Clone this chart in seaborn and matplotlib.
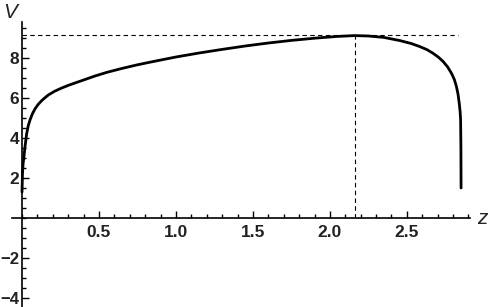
import matplotlib
matplotlib.use('Agg')
import matplotlib.pyplot as plt
import seaborn as sns
from matplotlib.ticker import MultipleLocator, FixedLocator

# curve values
z_vals = [0.0, 0.003, 0.007, 0.013, 0.02, 0.03, 0.04, 0.052, 0.067, 0.084, 0.105, 0.128,
          0.15, 0.171, 0.21, 0.258, 0.3, 0.344, 0.4, 0.474, 0.55, 0.65, 0.75, 0.85, 1.0,
          1.15, 1.3, 1.45, 1.6, 1.75, 1.9, 2.05, 2.16, 2.25, 2.35, 2.455, 2.53, 2.584,
          2.63, 2.671, 2.705, 2.736, 2.765, 2.79, 2.808, 2.822, 2.832, 2.84, 2.846, 2.849,
          2.851, 2.852]
v_vals = [1.3, 2.2, 2.7, 3.1, 3.6, 4.2, 4.6, 4.9, 5.2, 5.45, 5.68, 5.87,
          6.02, 6.15, 6.33, 6.5, 6.63, 6.75, 6.9, 7.1, 7.28, 7.48, 7.66, 7.82, 8.05,
          8.25, 8.43, 8.6, 8.75, 8.88, 8.99, 9.08, 9.12, 9.1, 9.03, 8.87, 8.72, 8.57,
          8.42, 8.23, 8.04, 7.82, 7.55, 7.23, 6.93, 6.57, 6.2, 5.75, 5.3, 4.9,
          3.5, 1.5]

z_peak = 2.16
v_peak = 9.15
x_ticks = [0.5, 1.0, 1.5, 2.0, 2.5]
y_ticks = [-4, -2, 2, 4, 6, 8]

sns.set_style('white')
plt.rcParams['font.family'] = ['Liberation Sans', 'DejaVu Sans']

fig = plt.figure(figsize=(4.91, 3.07), dpi=100)
W, H = 491, 307
# data area in pixels: x from 12 to 470, y from 22 to 307
ax = fig.add_axes([12 / W, 0, (470 - 12) / W, (307 - 22) / H])
ax.set_xlim(-0.065, 2.91)
ax.set_ylim(-4.45, 9.8)

sns.lineplot(x=z_vals, y=v_vals, ax=ax, color='black', linewidth=2.0, sort=False)

ax.plot([0, 2.83], [v_peak, v_peak], color='black', linewidth=0.8, linestyle=(0, (4, 3)))
ax.plot([z_peak, z_peak], [0, v_peak], color='black', linewidth=0.8, linestyle=(0, (4, 3)))

for s in ['top', 'right']:
    ax.spines[s].set_visible(False)
ax.spines['left'].set_position(('data', 0))
ax.spines['bottom'].set_position(('data', 0))
for s in ['left', 'bottom']:
    ax.spines[s].set_color('black')
    ax.spines[s].set_linewidth(1.2)

ax.xaxis.set_major_locator(FixedLocator(x_ticks))
ax.xaxis.set_minor_locator(MultipleLocator(0.1))
ax.yaxis.set_major_locator(FixedLocator(y_ticks))
ax.yaxis.set_minor_locator(MultipleLocator(0.5))
ax.set_xticklabels([f'{t:.1f}' for t in x_ticks])
ax.set_yticklabels([str(t).replace('-', '\u2212') for t in y_ticks])
ax.tick_params(which='both', bottom=True, left=True, direction='in', color='black',
               width=1.0, labelsize=12.5, labelcolor='#222222')
ax.tick_params(which='major', length=5)
ax.tick_params(axis='x', which='major', pad=5)
ax.tick_params(axis='y', which='major', pad=2)
ax.tick_params(which='minor', length=3)
for lab in ax.get_xticklabels() + ax.get_yticklabels():
    lab.set_fontweight('bold')
for lab in ax.get_yticklabels()[:2]:
    lab.set_fontsize(12)

fig.text(10 / W, 1 - 12 / H, 'V', fontsize=15, style='italic', color='#222222',
         ha='center', va='center')
fig.text(482 / W, 1 - 218 / H, 'z', fontsize=15, style='italic', color='#222222',
         ha='center', va='center')

fig.savefig('out.png', dpi=100)
